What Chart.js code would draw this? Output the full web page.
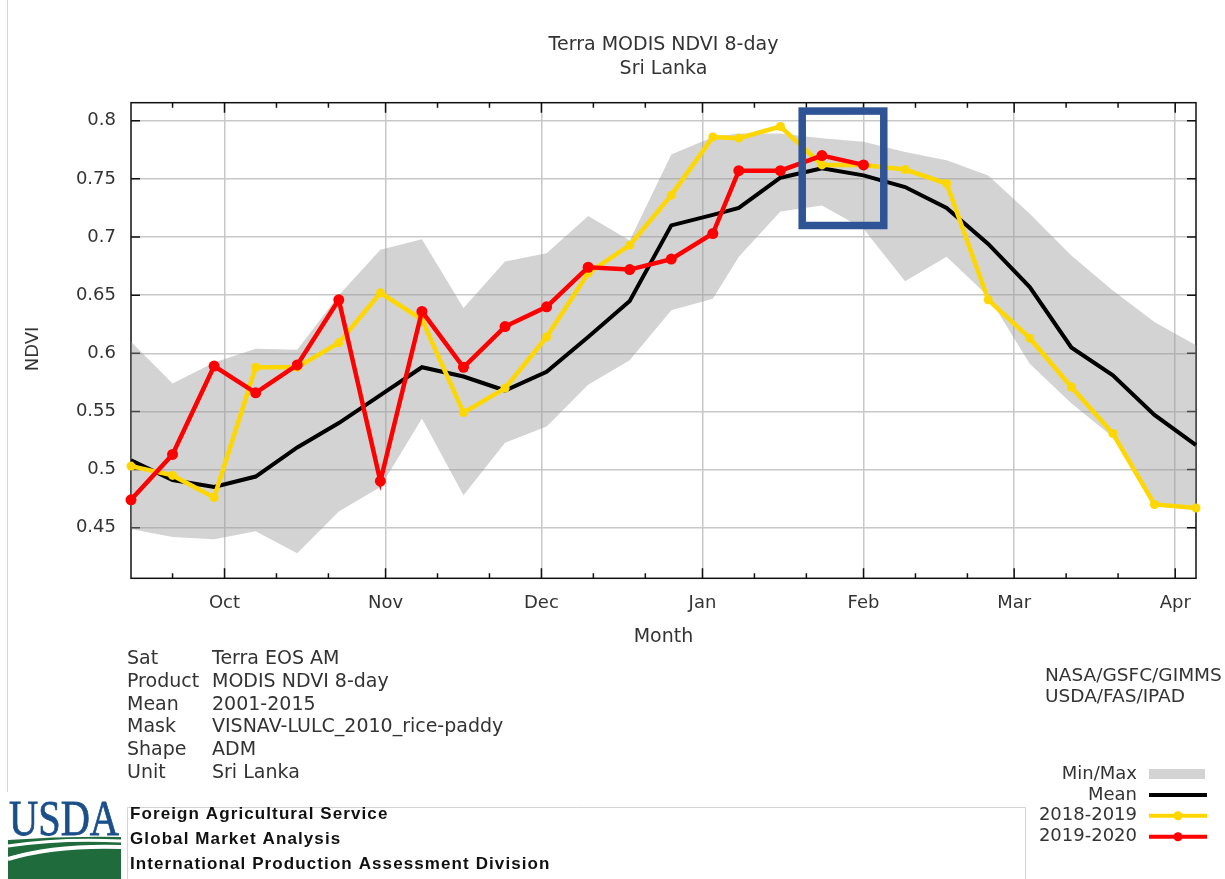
<!DOCTYPE html>
<html>
<head>
<meta charset="utf-8">
<script src="https://cdn.jsdelivr.net/npm/chart.js@4.4.0/dist/chart.umd.min.js"></script>
<style>
  body { margin: 0; background: #fff; }
  #wrap { position: relative; width: 1225px; height: 879px; overflow: hidden; background: #fff; }
  #c { position: absolute; left: 0; top: 0; }
  #logo { position: absolute; left: 5px; top: 796px; }
</style>
</head>
<body>
<div id="wrap">
  <canvas id="c" width="1225" height="879"></canvas>
  <svg id="logo" width="120" height="83" viewBox="0 0 120 83">
    <text x="59" y="39" text-anchor="middle" font-family="Liberation Serif, DejaVu Serif, serif" font-size="50" fill="#1b4f8a" stroke="#1b4f8a" stroke-width="0.8" textLength="110" lengthAdjust="spacingAndGlyphs">USDA</text>
    <path d="M3 44 Q60 40 116 41 L116 83 L3 83 Z" fill="#1f6b3c"/>
    <path d="M3 50 Q55 42 116 45" stroke="#fff" stroke-width="3" fill="none"/>
    <path d="M3 63 Q50 49 116 51" stroke="#fff" stroke-width="4" fill="none"/>
  </svg>
</div>
<script>
// MODIS 8-day composites (start day of year), Sep 2019 .. Apr 2020
const compositeDoy = [249, 257, 265, 273, 281, 289, 297, 305, 313, 321, 329, 337, 345, 353, 361,
                      1, 9, 17, 25, 33, 41, 49, 57, 65, 73, 81, 89];

const ndviMin  = [0.449, 0.442, 0.440, 0.447, 0.428, 0.464, 0.485, 0.544, 0.478, 0.523, 0.537, 0.573, 0.594, 0.637,
                  0.647, 0.683, 0.722, 0.727, 0.707, 0.662, 0.683, 0.649, 0.591, 0.557, 0.528, 0.471, 0.465];
const ndviMax  = [0.610, 0.574, 0.592, 0.604, 0.603, 0.650, 0.689, 0.698, 0.639, 0.679, 0.686, 0.718, 0.697, 0.771,
                  0.786, 0.789, 0.789, 0.785, 0.782, 0.773, 0.766, 0.753, 0.720, 0.684, 0.654, 0.627, 0.607];
const ndviMean = [0.508, 0.491, 0.485, 0.494, 0.519, 0.540, 0.564, 0.588, 0.580, 0.568, 0.584, 0.614, 0.645, 0.710,
                  0.719, 0.725, 0.751, 0.759, 0.753, 0.743, 0.725, 0.694, 0.657, 0.605, 0.581, 0.547, 0.521];
const ndvi1819 = [0.503, 0.495, 0.476, 0.588, 0.588, 0.609, 0.652, 0.629, 0.549, 0.570, 0.614, 0.669, 0.693, 0.736,
                  0.786, 0.785, 0.795, 0.762, 0.762, 0.758, 0.746, 0.646, 0.613, 0.571, 0.531, 0.470, 0.467];
const ndvi1920 = [0.474, 0.513, 0.589, 0.566, 0.590, 0.646, 0.490, 0.636, 0.588, 0.623, 0.640, 0.674, 0.672, 0.681,
                  0.703, 0.757, 0.757, 0.770, 0.762];

// x axis: days since 1 Oct
const monthStarts = [0, 31, 61, 92, 123, 152, 183];
const monthLabels = ['Oct', 'Nov', 'Dec', 'Jan', 'Feb', 'Mar', 'Apr'];
const minorTicks = [-10, 10, 20, 41, 51, 71, 81, 102, 112, 133, 143, 162, 172];
const yTicks = [0.45, 0.5, 0.55, 0.6, 0.65, 0.7, 0.75, 0.8];
const yTickLabels = ['0.45', '0.5', '0.55', '0.6', '0.65', '0.7', '0.75', '0.8'];

// highlighted window (days, NDVI)
const boxDays = [111.2, 126.9];
const boxNdvi = [0.7099, 0.8083];

const infoKeys = ['Sat', 'Product', 'Mean', 'Mask', 'Shape', 'Unit'];
const infoVals = ['Terra EOS AM', 'MODIS NDVI 8-day', '2001-2015', 'VISNAV-LULC_2010_rice-paddy', 'ADM', 'Sri Lanka'];
const credits = ['NASA/GSFC/GIMMS', 'USDA/FAS/IPAD'];
const footer = ['Foreign Agricultural Service', 'Global Market Analysis', 'International Production Assessment Division'];

// composite is plotted at its last day
function plotDay(doy) {
  return doy > 180 ? doy + 7 - 274 : doy + 7 + 91;
}
function pts(vals) {
  return vals.map((v, i) => ({ x: plotDay(compositeDoy[i]), y: v }));
}

const txt = '#333';
const bandColor = 'rgba(150,150,150,0.42)';

const decor = {
  id: 'decor',
  beforeDatasetsDraw(chart) {
    const { ctx, chartArea: a, scales: { x, y } } = chart;
    ctx.save();
    ctx.strokeStyle = '#111';
    ctx.lineWidth = 1.5;
    ctx.strokeRect(a.left, a.top, a.right - a.left, a.bottom - a.top);
    ctx.beginPath();
    yTicks.forEach(v => {
      const py = y.getPixelForValue(v);
      ctx.moveTo(a.left, py); ctx.lineTo(a.left + 9, py);
      ctx.moveTo(a.right, py); ctx.lineTo(a.right - 9, py);
    });
    monthStarts.forEach(d => {
      const px = x.getPixelForValue(d);
      ctx.moveTo(px, a.bottom); ctx.lineTo(px, a.bottom - 10);
      ctx.moveTo(px, a.top); ctx.lineTo(px, a.top + 10);
    });
    minorTicks.forEach(d => {
      const px = x.getPixelForValue(d);
      ctx.moveTo(px, a.bottom); ctx.lineTo(px, a.bottom - 5);
      ctx.moveTo(px, a.top); ctx.lineTo(px, a.top + 5);
    });
    ctx.stroke();
    ctx.restore();
  },
  afterDatasetsDraw(chart) {
    const { ctx, scales: { x, y } } = chart;
    const x0 = x.getPixelForValue(boxDays[0]), x1 = x.getPixelForValue(boxDays[1]);
    const y0 = y.getPixelForValue(boxNdvi[1]), y1 = y.getPixelForValue(boxNdvi[0]);
    ctx.save();
    ctx.strokeStyle = '#2f5496';
    ctx.lineWidth = 7.5;
    ctx.strokeRect(x0, y0, x1 - x0, y1 - y0);
    ctx.restore();
  },
  afterDraw(chart) {
    const { ctx, chartArea: a } = chart;
    ctx.save();
    ctx.fillStyle = txt;
    ctx.textBaseline = 'middle';

    // title
    ctx.font = '19px "DejaVu Sans"';
    ctx.textAlign = 'center';
    const cx = (a.left + a.right) / 2;
    ctx.fillText('Terra MODIS NDVI 8-day', cx, 45);
    ctx.fillText('Sri Lanka', cx, 69);

    // y axis title
    ctx.save();
    ctx.font = '18px "DejaVu Sans"';
    ctx.translate(33, 349);
    ctx.rotate(-Math.PI / 2);
    ctx.fillText('NDVI', 0, 0);
    ctx.restore();

    // info block
    ctx.font = '19px "DejaVu Sans"';
    ctx.textAlign = 'left';
    infoKeys.forEach((k, i) => {
      const yy = 659 + i * 22.8;
      ctx.fillText(k, 127, yy);
      ctx.fillText(infoVals[i], 212, yy);
    });
    ctx.font = '18.5px "DejaVu Sans"';
    credits.forEach((c, i) => ctx.fillText(c, 1045, 676 + i * 21));

    // legend
    ctx.font = '18px "DejaVu Sans"';
    const items = chart.data.datasets.filter(d => d.label);
    items.forEach((d, i) => {
      const yy = 774 + i * 20.9;
      ctx.textAlign = 'right';
      ctx.fillStyle = txt;
      ctx.fillText(d.label, 1137, yy);
      if (d.fill) {
        ctx.fillStyle = d.backgroundColor;
        ctx.fillRect(1149, yy - 5, 56, 10);
      } else {
        ctx.strokeStyle = d.borderColor;
        ctx.lineWidth = 4;
        ctx.beginPath();
        ctx.moveTo(1149, yy); ctx.lineTo(1207, yy);
        ctx.stroke();
        if (d.pointRadius > 0) {
          ctx.fillStyle = d.borderColor;
          ctx.beginPath();
          ctx.arc(1178, yy, 4.5, 0, Math.PI * 2);
          ctx.fill();
        }
      }
    });

    // footer box
    ctx.fillStyle = '#fff';
    ctx.fillRect(127, 807, 898, 72);
    ctx.strokeStyle = '#d4d4d4';
    ctx.lineWidth = 1;
    ctx.beginPath();
    ctx.moveTo(127.5, 879); ctx.lineTo(127.5, 807.5); ctx.lineTo(1025.5, 807.5); ctx.lineTo(1025.5, 879);
    ctx.moveTo(7.5, 0); ctx.lineTo(7.5, 792);
    ctx.stroke();
    ctx.fillStyle = '#111';
    ctx.textAlign = 'left';
    ctx.font = 'bold 17px "Liberation Sans"';
    ctx.letterSpacing = '1.1px';
    footer.forEach((f, i) => ctx.fillText(f, 130, 814 + i * 25));
    ctx.restore();
  }
};

new Chart(document.getElementById('c'), {
  type: 'line',
  data: {
    datasets: [
      { label: '', data: pts(ndviMin), borderWidth: 0, pointRadius: 0, fill: false, order: 4 },
      { label: 'Min/Max', data: pts(ndviMax), borderWidth: 0, pointRadius: 0, fill: '-1',
        backgroundColor: bandColor, order: 3 },
      { label: 'Mean', data: pts(ndviMean), borderColor: '#000', borderWidth: 4, pointRadius: 0,
        fill: false, order: 2, clip: 8 },
      { label: '2018-2019', data: pts(ndvi1819), borderColor: '#ffd700', backgroundColor: '#ffd700',
        borderWidth: 4.5, pointRadius: 4.5, pointBorderWidth: 0, fill: false, order: 1, clip: 8 },
      { label: '2019-2020', data: pts(ndvi1920), borderColor: '#ff0000', backgroundColor: '#ff0000',
        borderWidth: 4.5, pointRadius: 5.5, pointBorderWidth: 0, fill: false, order: 0, clip: 8 }
    ]
  },
  options: {
    responsive: false,
    animation: false,
    layout: { padding: { left: 0, right: 29, top: 102.7, bottom: 230.7 } },
    elements: { line: { tension: 0 } },
    plugins: { legend: { display: false }, title: { display: false }, tooltip: { enabled: false } },
    scales: {
      x: {
        type: 'linear',
        min: plotDay(249),
        max: plotDay(89),
        afterBuildTicks: s => { s.ticks = monthStarts.map(v => ({ value: v })); },
        afterFit: s => { s.height = 70; },
        grid: { color: '#c8c8c8', lineWidth: 1.5, drawTicks: false },
        border: { display: false },
        ticks: {
          autoSkip: false, maxRotation: 0, padding: 14, color: txt,
          font: { family: 'DejaVu Sans', size: 18 },
          callback: v => monthLabels[monthStarts.indexOf(v)]
        },
        title: { display: true, text: 'Month', color: txt, font: { family: 'DejaVu Sans', size: 19 },
                 padding: { top: 0, bottom: 0 } }
      },
      y: {
        min: 0.4065,
        max: 0.8155,
        afterBuildTicks: s => { s.ticks = yTicks.map(v => ({ value: v })); },
        afterFit: s => { s.width = 131; },
        grid: { color: '#c8c8c8', lineWidth: 1.5, drawTicks: false },
        border: { display: false },
        ticks: {
          padding: 15, color: txt,
          font: { family: 'DejaVu Sans', size: 18 },
          callback: v => yTickLabels[yTicks.indexOf(v)]
        },
        title: { display: false }
      }
    }
  },
  plugins: [decor]
});
</script>
</body>
</html>
